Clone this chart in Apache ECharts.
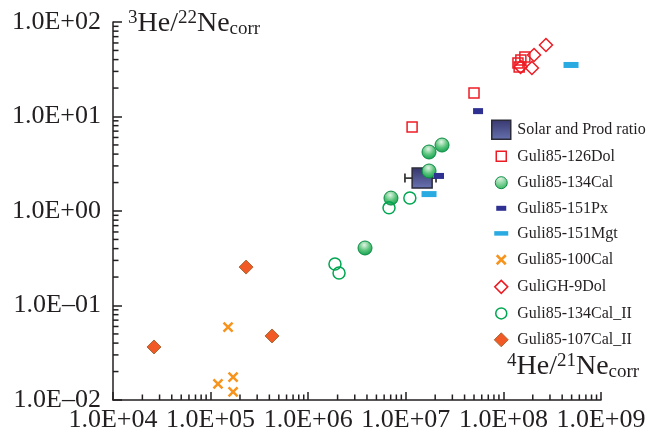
<!DOCTYPE html>
<html>
<head>
<meta charset="utf-8">
<script src="https://cdn.jsdelivr.net/npm/echarts@6/dist/echarts.min.js"></script>
<style>html,body{margin:0;padding:0;background:#fff;}#chart{width:649px;height:432px;}</style>
</head>
<body>
<div id="chart"></div>
<script>
// ---- data ----
const xTickLabels = ['1.0E+04','1.0E+05','1.0E+06','1.0E+07','1.0E+08','1.0E+09'];
const yTickLabels = ['1.0E\u201302','1.0E\u201301','1.0E+00','1.0E+01','1.0E+02'];
const seriesNames = ['Solar and Prod ratio','Guli85-126Dol','Guli85-134Cal','Guli85-151Px','Guli85-151Mgt','Guli85-100Cal','GuliGH-9Dol','Guli85-134Cal_II','Guli85-107Cal_II'];

const solarRatio = [[1.47e7, 2.23]];
const solarErrX = [[9.8e6, 2.04e7, 2.23]];
const guli126Dol = [[1.16e7,7.74],[5.0e7,17.7],[1.41e8,36.8],[1.51e8,39.6],[1.66e8,42.6],[1.45e8,33.4]];
const guli134Cal = [[1.73e7,4.21],[2.35e7,4.99],[1.73e7,2.65],[7.05e6,1.37],[3.82e6,0.406]];
const guli151Px = [[2.19e7,2.35],[5.5e7,11.4]];
const guli151Mgt = [[1.73e7,1.51],[4.93e8,35.1]];
const guli100Cal = [[1.19e5,0.0148],[1.51e5,0.0592],[1.70e5,0.0175],[1.70e5,0.0122]];
const guliGH9Dol = [[2.73e8,57.1],[2.06e8,44.8],[1.96e8,32.6],[1.50e8,33.5]];
const guli134CalII = [[6.73e6,1.08],[1.10e7,1.37],[1.88e6,0.275],[2.07e6,0.221]];
const guli107CalII = [[2.63e4,0.0364],[2.31e5,0.255],[4.26e5,0.0476]];

// ---- axis decoration: logarithmic minor ticks ----
const X_MIN = 1e4, X_MAX = 1e9, Y_MIN = 1e-2, Y_MAX = 1e2;
const xMinor = [], yMinor = [];
for (let d = 4; d < 9; d++) for (let k = 2; k <= 9; k++) xMinor.push([k * Math.pow(10, d), Y_MIN]);
for (let d = -2; d < 2; d++) for (let k = 2; k <= 9; k++) yMinor.push([X_MIN, +(k * Math.pow(10, d)).toPrecision(3)]);

const INK = '#231f20';
const FONT = "'Liberation Serif','Times New Roman',serif";

const solarFill = new echarts.graphic.LinearGradient(0,0,0,1,[{offset:0,color:'#34336a'},{offset:1,color:'#6a76b3'}]);
const greenFill = new echarts.graphic.RadialGradient(0.45,0.3,0.75,[{offset:0,color:'#e3f5e6'},{offset:0.5,color:'#5cc47c'},{offset:1,color:'#009a48'}]);

const ICONS = {
  solar: 'path://M0,0M22,22M1.5,1.5h19v19h-19z',
  sq: 'path://M0,0M22,22M6,6h10v10h-10z',
  circ: 'path://M0,0M22,22M5,11a6,6 0 1,0 12,0a6,6 0 1,0 -12,0z',
  px: 'path://M0,0M22,22M6,8.5h10v5h-10z',
  mgt: 'path://M0,0M22,22M4,8.75h14v4.5h-14z',
  x: 'path://M0,0M22,22M6.5,6.5L15.5,15.5M15.5,6.5L6.5,15.5',
  dia: 'path://M0,0M22,22M11,4.5L17.5,11L11,17.5L4.5,11z',
  hcirc: 'path://M0,0M22,22M5.5,11a5.5,5.5 0 1,0 11,0a5.5,5.5 0 1,0 -11,0z',
  odia: 'path://M0,0M22,22M11,4L18,11L11,18L4,11z'
};

function tickLabel(arr, offset) {
  return function (v) {
    const i = Math.round(Math.log10(v)) - offset;
    return arr[i] !== undefined ? arr[i] : '';
  };
}

function minorTickSeries(data, horizontal) {
  return {
    type: 'custom', silent: true, clip: false, z: 3,
    data: data,
    renderItem: function (params, api) {
      const p = api.coord([api.value(0), api.value(1)]);
      const shape = horizontal
        ? { x1: p[0], y1: p[1], x2: p[0] + 5.5, y2: p[1] }
        : { x1: p[0], y1: p[1], x2: p[0], y2: p[1] - 5.5 };
      return { type: 'line', shape: shape, style: { stroke: INK, lineWidth: 1.5 } };
    }
  };
}

const titleRich = {
  main: { fontSize: 28, fontFamily: FONT, fill: INK, lineHeight: 30 },
  sup: { fontSize: 19, fontFamily: FONT, fill: INK, lineHeight: 22, verticalAlign: 'top' },
  sub: { fontSize: 19, fontFamily: FONT, fill: INK, lineHeight: 14, verticalAlign: 'bottom' }
};

const chart = echarts.init(document.getElementById('chart'), null, { renderer: 'canvas' });
chart.setOption({
  animation: false,
  backgroundColor: '#fff',
  grid: { left: 113, top: 22, width: 488, height: 378, outerBoundsMode: 'none' },
  xAxis: {
    type: 'log', logBase: 10, min: X_MIN, max: X_MAX, splitNumber: 5,
    axisLine: { show: true, onZero: false, lineStyle: { color: INK, width: 1.5 } },
    axisTick: { show: true, inside: true, length: 8, lineStyle: { color: INK, width: 1.5 } },
    axisLabel: { interval: 0, formatter: tickLabel(xTickLabels, 4), fontSize: 26, fontFamily: FONT, color: INK, margin: 7 },
    splitLine: { show: false }
  },
  yAxis: {
    type: 'log', logBase: 10, min: Y_MIN, max: Y_MAX, splitNumber: 4,
    axisLine: { show: true, onZero: false, lineStyle: { color: INK, width: 1.5 } },
    axisTick: { show: true, inside: true, length: 9, lineStyle: { color: INK, width: 1.5 } },
    axisLabel: { interval: 0, formatter: tickLabel(yTickLabels, -2), fontSize: 26, fontFamily: FONT, color: INK, margin: 12 },
    splitLine: { show: false }
  },
  legend: {
    orient: 'vertical', left: 489, top: 118, padding: 0,
    itemWidth: 22, itemHeight: 22, itemGap: 3.1, itemTextGap: 4,
    selectedMode: false,
    textStyle: { fontSize: 16, fontFamily: FONT, color: INK },
    data: [
      { name: seriesNames[0], icon: ICONS.solar, itemStyle: { borderWidth: 1.5 } },
      { name: seriesNames[1], icon: ICONS.sq, itemStyle: { borderWidth: 1.5 } },
      { name: seriesNames[2], icon: ICONS.circ, itemStyle: { borderWidth: 1 } },
      { name: seriesNames[3], icon: ICONS.px, itemStyle: { borderWidth: 0 } },
      { name: seriesNames[4], icon: ICONS.mgt, itemStyle: { borderWidth: 0 } },
      { name: seriesNames[5], icon: ICONS.x, itemStyle: { borderWidth: 2.5 } },
      { name: seriesNames[6], icon: ICONS.dia, itemStyle: { borderWidth: 1.5 } },
      { name: seriesNames[7], icon: ICONS.hcirc, itemStyle: { borderWidth: 1.5 } },
      { name: seriesNames[8], icon: ICONS.odia, itemStyle: { borderWidth: 1 } }
    ]
  },
  graphic: [
    {
      type: 'text', left: 128, top: 9, z: 10,
      style: { text: '{sup|3}{main|He/}{sup|22}{main|Ne}{sub|corr}', rich: titleRich }
    },
    {
      type: 'text', left: 507, top: 352, z: 10,
      style: { text: '{sup|4}{main|He/}{sup|21}{main|Ne}{sub|corr}', rich: titleRich }
    }
  ],
  series: [
    minorTickSeries(xMinor, false),
    minorTickSeries(yMinor, true),
    {
      name: seriesNames[0], type: 'scatter', data: solarRatio, symbol: 'rect', symbolSize: 20, z: 4,
      itemStyle: { color: solarFill, borderColor: '#2a2a38', borderWidth: 1.5, opacity: 1 }
    },
    {
      type: 'custom', silent: true, z: 4, data: solarErrX,
      encode: { x: [0, 1], y: 2 },
      renderItem: function (params, api) {
        const a = api.coord([api.value(0), api.value(2)]);
        const b = api.coord([api.value(1), api.value(2)]);
        const st = { stroke: '#3a3a3a', lineWidth: 1.8 };
        return { type: 'group', children: [
          { type: 'line', shape: { x1: a[0], y1: a[1], x2: b[0], y2: b[1] }, style: st },
          { type: 'line', shape: { x1: a[0], y1: a[1] - 4.5, x2: a[0], y2: a[1] + 4.5 }, style: st },
          { type: 'line', shape: { x1: b[0], y1: b[1] - 4.5, x2: b[0], y2: b[1] + 4.5 }, style: st }
        ] };
      }
    },
    {
      name: seriesNames[1], type: 'scatter', data: guli126Dol, symbol: 'rect', symbolSize: 10, z: 5,
      itemStyle: { color: 'rgba(255,255,255,0)', borderColor: '#ed1c24', borderWidth: 1.5, opacity: 1 }
    },
    {
      name: seriesNames[2], type: 'scatter', data: guli134Cal, symbol: 'circle', symbolSize: 14, z: 5,
      itemStyle: { color: greenFill, borderColor: '#0c8c44', borderWidth: 1, opacity: 1 }
    },
    {
      name: seriesNames[3], type: 'scatter', data: guli151Px, symbol: 'rect', symbolSize: [10, 6], z: 5,
      itemStyle: { color: '#2e3192', opacity: 1 }
    },
    {
      name: seriesNames[4], type: 'scatter', data: guli151Mgt, symbol: 'rect', symbolSize: [15, 6], z: 5,
      itemStyle: { color: '#29abe2', opacity: 1 }
    },
    {
      name: seriesNames[5], type: 'scatter', data: guli100Cal, symbol: 'path://M0,0L10,10M10,0L0,10', symbolSize: 9, z: 5,
      itemStyle: { color: '#f7941d', borderColor: '#f7941d', borderWidth: 2.5, opacity: 1 }
    },
    {
      name: seriesNames[6], type: 'scatter', data: guliGH9Dol, symbol: 'diamond', symbolSize: 13, z: 5,
      itemStyle: { color: 'rgba(255,255,255,0)', borderColor: '#ed1c24', borderWidth: 1.5, opacity: 1 }
    },
    {
      name: seriesNames[7], type: 'scatter', data: guli134CalII, symbol: 'circle', symbolSize: 12, z: 5,
      itemStyle: { color: 'rgba(255,255,255,0)', borderColor: '#00a651', borderWidth: 1.5, opacity: 1 }
    },
    {
      name: seriesNames[8], type: 'scatter', data: guli107CalII, symbol: 'diamond', symbolSize: 14, z: 5,
      itemStyle: { color: '#f15a24', borderColor: '#a86a3a', borderWidth: 1, opacity: 1 }
    }
  ]
});
</script>
</body>
</html>
